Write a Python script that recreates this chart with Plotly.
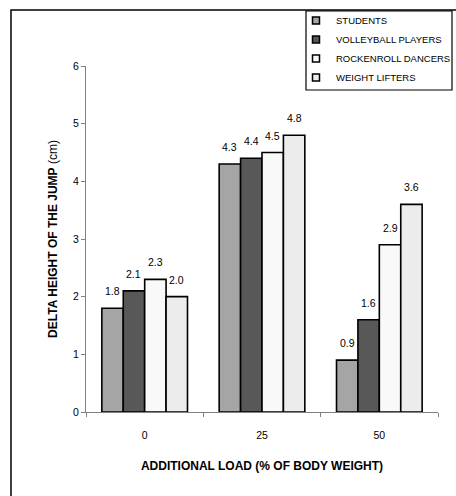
import plotly.graph_objects as go

# Jump height gain per group at each additional load
loads = ["0", "25", "50"]
students = [1.8, 4.3, 0.9]
volleyball = [2.1, 4.4, 1.6]
rockenroll = [2.3, 4.5, 2.9]
weightlifters = [2.0, 4.8, 3.6]

series = [
    ("STUDENTS", students, "#a5a5a5"),
    ("VOLLEYBALL PLAYERS", volleyball, "#585858"),
    ("ROCKENROLL DANCERS", rockenroll, "#f9f9f9"),
    ("WEIGHT LIFTERS", weightlifters, "#ececec"),
]

FONT = "Arial, Liberation Sans, sans-serif"

W, H = 456, 496
L, R, T, B = 86, 18, 66, 84
pw, ph = W - L - R, H - T - B
BARGAP = 0.27


def px_x(x):
    return (x - L) / pw


def px_y(y):
    return (H - B - y) / ph


fig = go.Figure()
n = len(series)
slot = (1 - BARGAP) / n  # bar width in category units
annotations = []
for i, (name, vals, color) in enumerate(series):
    fig.add_trace(go.Bar(
        x=loads, y=vals, name=name, showlegend=False,
        marker=dict(color=color, line=dict(color="black", width=1.6)),
    ))
    # value labels above each bar (category index + bar offset)
    offset = (i - (n - 1) / 2) * slot
    for j, v in enumerate(vals):
        annotations.append(dict(
            x=j + offset, y=v, xref="x", yref="y", text=f"{v:.1f}",
            showarrow=False, yshift=17, yanchor="middle",
            font=dict(family=FONT, size=10.5, color="black"),
        ))

# small square swatches for the legend, on a hidden overlay axis
for name, vals, color in series:
    fig.add_trace(go.Scatter(
        x=[0], y=[0], mode="markers", name=name, xaxis="x2", yaxis="y2",
        hoverinfo="skip",
        marker=dict(symbol="square", size=7, color=color,
                    line=dict(color="black", width=1.5)),
    ))

fig.update_layout(
    width=W, height=H,
    margin=dict(l=L, r=R, t=T, b=B, autoexpand=False),
    paper_bgcolor="white", plot_bgcolor="white",
    barmode="group", bargap=BARGAP, bargroupgap=0,
    font=dict(family=FONT, size=10.5, color="black"),
    showlegend=True,
    legend=dict(
        x=px_x(296), y=px_y(6), xanchor="left", yanchor="top",
        bgcolor="rgba(0,0,0,0)", borderwidth=0,
        font=dict(family=FONT, size=9.5, color="black"),
        itemwidth=30, tracegroupgap=0,
    ),
    xaxis=dict(
        type="category", range=[-0.5, len(loads) - 0.5],
        showline=True, linecolor="#808080", linewidth=1,
        ticks="outside", tickson="boundaries", ticklen=4, tickcolor="#808080",
        tickfont=dict(family=FONT, size=10.5), ticklabelstandoff=13,
        showgrid=False, zeroline=False,
        title=dict(text="<b>ADDITIONAL LOAD (% OF BODY WEIGHT)</b>",
                   font=dict(family=FONT, size=12), standoff=22),
    ),
    yaxis=dict(
        range=[0, 6], dtick=1, showline=True, linecolor="#808080", linewidth=1,
        ticks="outside", ticklen=4, tickcolor="#808080",
        tickfont=dict(family=FONT, size=10.5),
        showgrid=False, zeroline=False,
        title=dict(text="<b>DELTA HEIGHT OF THE JUMP</b> (cm)",
                   font=dict(family=FONT, size=12), standoff=12),
    ),
    xaxis2=dict(overlaying="x", range=[10, 11], visible=False),
    yaxis2=dict(overlaying="y", range=[10, 11], visible=False),
    annotations=annotations,
    shapes=[
        # chart frame
        dict(type="rect", xref="paper", yref="paper",
             x0=px_x(11), x1=px_x(480), y0=px_y(10), y1=px_y(520),
             line=dict(color="black", width=1.5), fillcolor="rgba(0,0,0,0)"),
        # legend frame
        dict(type="rect", xref="paper", yref="paper",
             x0=px_x(306), x1=px_x(452), y0=px_y(11), y1=px_y(90),
             line=dict(color="black", width=1.2), fillcolor="rgba(0,0,0,0)"),
    ],
)

fig.write_html("out.html")
